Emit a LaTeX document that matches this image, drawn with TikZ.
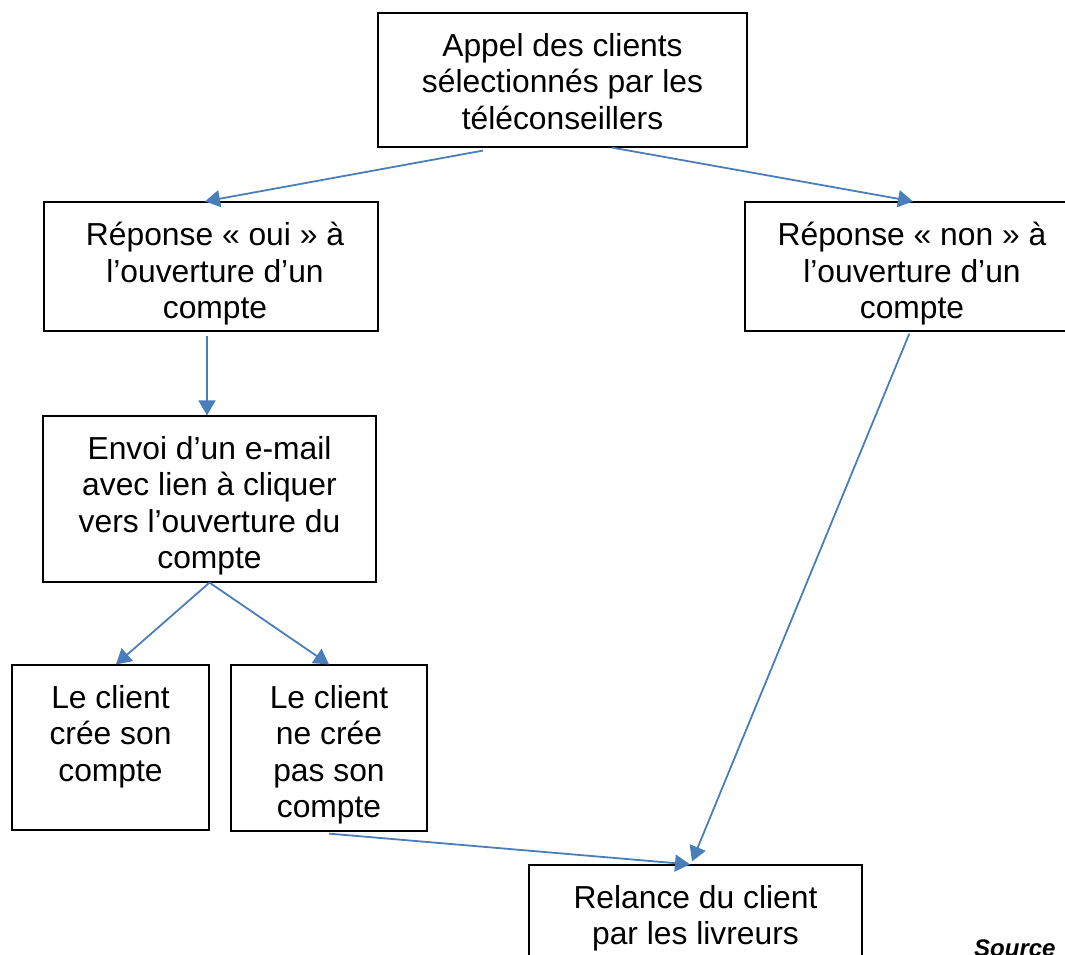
\documentclass[tikz,border=0pt]{standalone}
\usepackage{fontspec}
\setmainfont{Liberation Sans}
\usetikzlibrary{arrows.meta,calc}
\definecolor{arrowblue}{HTML}{4A7EBB}
\tikzset{
  box/.style={draw=black, line width=1.2pt, rectangle, inner sep=0pt},
  txt/.style={anchor=north, inner sep=0pt, align=center, font=\fontsize{31.8}{36.5}\selectfont},
  conn/.style={draw=arrowblue, line width=1.8pt, -{Triangle[length=15pt,width=17pt]}},
}
\begin{document}
\begin{tikzpicture}[x=1pt,y=-1pt]
\useasboundingbox (0,0) rectangle (1065,954);
\clip (0,0) rectangle (1065,954);
% boxes (centers, sizes)
\node[box, minimum width=369pt, minimum height=134pt] (top) at (562.5,80) {};
\node[box, minimum width=334pt, minimum height=129pt] (oui) at (211,266.5) {};
\node[box, minimum width=334pt, minimum height=129pt] (non) at (912,266.5) {};
\node[box, minimum width=333pt, minimum height=166pt] (email) at (209.5,499) {};
\node[box, minimum width=197pt, minimum height=165pt] (cree) at (110.5,747.5) {};
\node[box, minimum width=196pt, minimum height=166pt] (necree) at (329,748) {};
\node[box, minimum width=333pt, minimum height=130pt] (relance) at (695.5,930) {};
% texts
\node[txt] (ttop) at ([yshift=-20.5pt]top.north) {Appel des clients\\sélectionnés par les\\téléconseillers};
\node[txt] (toui) at ([yshift=-20.5pt,xshift=4pt]oui.north) {Réponse « oui » à\\l’ouverture d’un\\compte};
\node[txt] (tnon) at ([yshift=-20.5pt]non.north) {Réponse « non » à\\l’ouverture d’un\\compte};
\node[txt] (temail) at ([yshift=-20.5pt]email.north) {Envoi d’un e-mail\\avec lien à cliquer\\vers l’ouverture du\\compte};
\node[txt] (tcree) at ([yshift=-20.5pt]cree.north) {Le client\\crée son\\compte};
\node[txt] (tnecree) at ([yshift=-20.5pt]necree.north) {Le client\\ne crée\\pas son\\compte};
\node[txt] (trelance) at ([yshift=-20.5pt]relance.north) {Relance du client\\par les livreurs};
\node[anchor=base west, inner sep=0pt, font=\fontsize{24}{28}\selectfont\bfseries\itshape] (source) at (974,956) {Source};
% connectors
\draw[conn] ($(top.south west)!0.285!(top.south east)+(0,3)$) -- ($(oui.north west)!0.482!(oui.north east)$);
\draw[conn] ($(top.south west)!0.634!(top.south east)$) -- ($(non.north west)!0.503!(non.north east)$);
\draw[conn] ([xshift=-4pt,yshift=-4pt]oui.south) -- ([xshift=-2.5pt]email.north);
\draw[conn] (email.south) -- ($(cree.north)+(5.5,0)$);
\draw[conn] (email.south) -- (necree.north);
\draw[conn] ([yshift=-2pt]necree.south) -- ($(relance.north)+(-5.5,0)$);
\draw[conn] ($(non.south west)!0.492!(non.south east)+(0,2)$) -- ($(relance.north)+(-3.5,-3)$);
\end{tikzpicture}
\end{document}
